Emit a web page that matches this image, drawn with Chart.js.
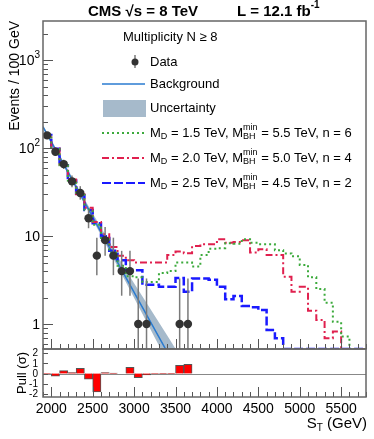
<!DOCTYPE html>
<html>
<head>
<meta charset="utf-8">
<script src="https://cdn.jsdelivr.net/npm/chart.js@4.4.0/dist/chart.umd.min.js"></script>
<style>
html, body { margin: 0; padding: 0; background: #fff; }
#wrap { position: relative; width: 374px; height: 439px; }
#wrap canvas { position: absolute; left: 0; top: 0; }
</style>
</head>
<body>
<div id="wrap">
  <canvas id="mainChart" width="374" height="439"></canvas>
  <canvas id="pullChart" width="374" height="439"></canvas>
</div>
<script>
// left edges of the 100 GeV bins
var binEdges = [1900, 2000, 2100, 2200, 2300, 2400, 2500, 2600, 2700, 2800,
                2900, 3000, 3100, 3200, 3300, 3400, 3500, 3600, 3700, 3800,
                3900, 4000, 4100, 4200, 4300, 4400, 4500, 4600, 4700, 4800,
                4900, 5000, 5100, 5200, 5300, 5400, 5500, 5600, 5700];

// data points (bin centres), counts and error bar ends
var dataX  = [1950, 2050, 2150, 2250, 2350, 2450, 2550, 2650, 2750, 2850, 2950, 3050, 3150, 3550, 3650];
var dataY  = [140, 91, 66, 42, 31, 16, 6, 9, 6, 4, 4, 1, 1, 1, 1];
var dataLo = [128, 82, 58, 36, 26, 12.3, 3.6, 6.0, 3.6, 2.1, 2.1, 0.17, 0.17, 0.17, 0.17];
var dataHi = [152, 101, 74, 49, 37, 20, 9.6, 12.7, 9.6, 6.8, 6.8, 3.3, 3.3, 3.3, 3.3];

// background fit and its uncertainty band
var bkgX   = [1900, 2400, 2900, 3400, 3600];
var bkgY   = [175, 24.5, 3.4, 0.48, 0.22];
var bandHi = [182, 26.5, 4.1, 0.74, 0.37];
var bandLo = [170, 23, 3.0, 0.375, 0.17];

// signal + background histograms (one value per bin)
var sigGreen = [142, 98, 64, 43, 29.5, 20, 13.5, 9.5, 6.5, 4.6,
                3.5, 3.4, 3.0, 3.0, 3.8, 4.0, 5.0, 5.0, 4.5, 6.1,
                7.2, 7.3, 8.3, 8.2, 9.2, 8.4, 8.1, 8.1, 6.9, 6.35,
                5.9, 4.7, 3.4, 2.5, 1.75, 1.06, 0.72, 0, 0];
var sigRed   = [143, 99, 65, 44, 30, 21, 14.5, 10.5, 7.5, 6.0,
                5.3, 5.0, 5.0, 5.0, 5.0, 6.1, 6.7, 6.4, 7.7, 8.1,
                8.1, 9.2, 8.4, 8.6, 9.0, 6.5, 7.1, 6.1, 6.1, 3.45,
                2.33, 2.65, 1.42, 1.11, 0.69, 0.82, 0, 0, 0];
var sigBlue  = [141, 98.5, 64, 43, 29.2, 19.8, 14, 10, 6.8, 5.3,
                4.1, 4.1, 2.8, 2.8, 2.65, 2.65, 3.35, 2.33, 3.3, 3.3,
                3.2, 2.65, 1.91, 2.08, 1.6, 1.55, 1.44, 0.855, 0.69, 0,
                0, 0, 0, 0, 0, 0, 0, 0, 0];

// pull per bin
var pullVals = [-0.05, -0.25, 0.28, 0.1, 0.5, -0.55, -1.8, 0.1, 0.03, 0,
                0.6, -0.4, -0.15, -0.05, -0.03, -0.02, 0.8, 0.9, 0, 0,
                0, 0, 0, 0, 0, 0, 0, 0, 0, 0,
                0, 0, 0, 0, 0, 0, 0, 0, 0];

var xTicks = [2000, 2500, 3000, 3500, 4000, 4500, 5000, 5500];
var yTicks = [1, 10, 100, 1000];
var yTickExp = ['', '', '2', '3'];
var pullTicks = [-2, -1, 0, 1, 2];

var X_MIN = 1900, X_MAX = 5800, Y_MIN = 0.52, Y_MAX = 2800, P_MIN = -2.3, P_MAX = 2.4;
var FONT = '"Liberation Sans", Arial, Helvetica, sans-serif';

var colGreen = '#3caa3c', colRed = '#e0204e', colBlue = '#1a1aff';
var colBkg = '#2a7bd0', colBand = 'rgba(150,174,194,0.85)';
var dashGreen = [2, 3], dashRed = [7, 3, 2, 3], dashBlue = [9, 3];

// histogram -> polyline with both bin edges
function histPoints(vals) {
    var pts = [];
    for (var i = 0; i < binEdges.length; i++) {
        var v = vals[i] > 0 ? vals[i] : Y_MIN;
        pts.push({ x: binEdges[i], y: v });
        pts.push({ x: binEdges[i] + 100, y: v });
    }
    return pts;
}

function xyPoints(xs, ys) {
    return xs.map(function (x, i) { return { x: x, y: ys[i] }; });
}

// text with sub/superscripts, parts: {t} or {sub} or {sup} or {sup, sub}
function richText(c, x, y, parts, size, weight) {
    var w = weight || 'normal';
    var small = Math.round(size * 0.68);
    parts.forEach(function (p) {
        if (p.t !== undefined) {
            c.font = w + ' ' + size + 'px ' + FONT;
            c.fillText(p.t, x, y);
            x += c.measureText(p.t).width;
        } else {
            c.font = w + ' ' + small + 'px ' + FONT;
            var wd = 0;
            if (p.sup) {
                c.fillText(p.sup, x, y - size * 0.42);
                wd = Math.max(wd, c.measureText(p.sup).width);
            }
            if (p.sub) {
                c.fillText(p.sub, x, y + size * 0.28);
                wd = Math.max(wd, c.measureText(p.sub).width);
            }
            x += wd;
        }
    });
    return x;
}

function richWidth(c, parts, size, weight) {
    var w = weight || 'normal';
    var small = Math.round(size * 0.68);
    var total = 0;
    parts.forEach(function (p) {
        if (p.t !== undefined) {
            c.font = w + ' ' + size + 'px ' + FONT;
            total += c.measureText(p.t).width;
        } else {
            c.font = w + ' ' + small + 'px ' + FONT;
            total += Math.max(p.sup ? c.measureText(p.sup).width : 0, p.sub ? c.measureText(p.sub).width : 0);
        }
    });
    return total;
}

// error bars under the data markers
var errorBars = {
    id: 'errorBars',
    beforeDatasetDraw: function (chart, args) {
        if (args.index !== 0) return;
        var c = chart.ctx, xs = chart.scales.x, ys = chart.scales.y, a = chart.chartArea;
        c.save();
        c.beginPath();
        c.rect(a.left, a.top, a.right - a.left, a.bottom - a.top);
        c.clip();
        c.strokeStyle = '#7a7a7a';
        c.lineWidth = 1.5;
        for (var i = 0; i < dataX.length; i++) {
            var px = xs.getPixelForValue(dataX[i]);
            c.beginPath();
            c.moveTo(px, ys.getPixelForValue(dataHi[i]));
            c.lineTo(px, ys.getPixelForValue(dataLo[i]));
            c.stroke();
        }
        c.restore();
    }
};

// frame, inner ticks, labels, title and legend of the main panel
var mainDecor = {
    id: 'mainDecor',
    afterDraw: function (chart) {
        var c = chart.ctx, a = chart.chartArea, xs = chart.scales.x, ys = chart.scales.y;
        c.save();
        c.strokeStyle = '#555';
        c.lineWidth = 1;
        // x ticks at bottom
        for (var v = 1900; v <= X_MAX; v += 100) {
            var px = Math.round(xs.getPixelForValue(v)) + 0.5;
            var len = (v % 500 === 0) ? 10 : 5;
            c.beginPath(); c.moveTo(px, a.bottom); c.lineTo(px, a.bottom - len); c.stroke();
        }
        // log y ticks
        for (var d = -1; d <= 3; d++) {
            for (var m = 1; m <= 9; m++) {
                var val = m * Math.pow(10, d);
                if (val < Y_MIN || val > Y_MAX) continue;
                var py = Math.round(ys.getPixelForValue(val)) + 0.5;
                var l = (m === 1) ? 10 : 5;
                c.beginPath(); c.moveTo(a.left, py); c.lineTo(a.left + l, py); c.stroke();
            }
        }
        // frame
        c.strokeStyle = '#666';
        c.lineWidth = 1.5;
        c.strokeRect(a.left, a.top, a.right - a.left, a.bottom - a.top);

        c.fillStyle = '#000';
        c.textBaseline = 'middle';
        // y tick labels
        yTicks.forEach(function (t, i) {
            var py = ys.getPixelForValue(t);
            var parts = [{ t: String(t === 100 || t === 1000 ? 10 : t) }];
            if (yTickExp[i]) parts.push({ sup: yTickExp[i] });
            var w = richWidth(c, parts, 14);
            c.textAlign = 'left';
            richText(c, a.left - 3 - w, py + 1, parts, 14);
        });
        // y axis title
        c.save();
        c.translate(15, a.top);
        c.rotate(-Math.PI / 2);
        c.textAlign = 'right';
        c.font = '14px ' + FONT;
        c.fillText('Events / 100 GeV', 0, 0);
        c.restore();

        // title
        c.textAlign = 'left';
        richText(c, 88, 12, [{ t: 'CMS \u221As = 8 TeV' }], 15, 'bold');
        richText(c, 237, 12, [{ t: 'L = 12.1 fb' }, { sup: '-1' }], 15, 'bold');

        // legend
        richText(c, 123, 37, [{ t: 'Multiplicity N \u2265 8' }], 13);
        // data marker
        c.strokeStyle = '#7a7a7a'; c.lineWidth = 1.5;
        c.beginPath(); c.moveTo(135, 55); c.lineTo(135, 68); c.stroke();
        c.fillStyle = '#333';
        c.beginPath(); c.arc(135, 62, 3.5, 0, Math.PI * 2); c.fill();
        c.fillStyle = '#000';
        richText(c, 150, 62, [{ t: 'Data' }], 13);
        // background line
        c.strokeStyle = colBkg; c.lineWidth = 1.5;
        c.beginPath(); c.moveTo(102, 84); c.lineTo(145, 84); c.stroke();
        richText(c, 150, 84, [{ t: 'Background' }], 13);
        // uncertainty box
        c.fillStyle = colBand;
        c.fillRect(103, 100, 43, 17);
        c.fillStyle = '#000';
        richText(c, 150, 108, [{ t: 'Uncertainty' }], 13);
        // signals
        var sigs = [
            { y: 133, col: colGreen, dash: dashGreen, md: '1.5', mbh: '5.5', n: '6' },
            { y: 158, col: colRed, dash: dashRed, md: '2.0', mbh: '5.0', n: '4' },
            { y: 183, col: colBlue, dash: dashBlue, md: '2.5', mbh: '4.5', n: '2' }
        ];
        sigs.forEach(function (s) {
            c.strokeStyle = s.col; c.lineWidth = 2; c.setLineDash(s.dash);
            c.beginPath(); c.moveTo(102, s.y); c.lineTo(145, s.y); c.stroke();
            c.setLineDash([]);
            richText(c, 150, s.y, [{ t: 'M' }, { sub: 'D' }, { t: ' = ' + s.md + ' TeV, M' },
                { sup: 'min', sub: 'BH' }, { t: ' = ' + s.mbh + ' TeV, n = ' + s.n }], 13);
        });
        c.restore();
    }
};

// pull panel decorations
var pullDecor = {
    id: 'pullDecor',
    beforeDatasetsDraw: function (chart) {
        var c = chart.ctx, a = chart.chartArea, ys = chart.scales.y;
        c.save();
        c.strokeStyle = '#888'; c.lineWidth = 1;
        var py = Math.round(ys.getPixelForValue(0)) + 0.5;
        c.beginPath(); c.moveTo(a.left, py); c.lineTo(a.right, py); c.stroke();
        c.restore();
    },
    afterDraw: function (chart) {
        var c = chart.ctx, a = chart.chartArea, xs = chart.scales.x, ys = chart.scales.y;
        c.save();
        c.strokeStyle = '#555'; c.lineWidth = 1;
        for (var v = 1900; v <= X_MAX; v += 100) {
            var px = Math.round(xs.getPixelForValue(v)) + 0.5;
            var len = (v % 500 === 0) ? 10 : 5;
            c.beginPath(); c.moveTo(px, a.bottom); c.lineTo(px, a.bottom - len); c.stroke();
        }
        pullTicks.forEach(function (t) {
            var py = Math.round(ys.getPixelForValue(t)) + 0.5;
            c.beginPath(); c.moveTo(a.left, py); c.lineTo(a.left + 5, py); c.stroke();
        });
        c.strokeStyle = '#666'; c.lineWidth = 1.5;
        c.strokeRect(a.left, a.top, a.right - a.left, a.bottom - a.top);

        c.fillStyle = '#000';
        c.textBaseline = 'middle';
        c.textAlign = 'right';
        c.font = '10px ' + FONT;
        pullTicks.forEach(function (t) {
            c.fillText(String(t), a.left - 5, ys.getPixelForValue(t) + 0.5);
        });
        c.textAlign = 'center';
        c.font = '14px ' + FONT;
        xTicks.forEach(function (t) {
            c.fillText(String(t), xs.getPixelForValue(t), 409);
        });
        // pull axis title
        c.save();
        c.translate(22, (a.top + a.bottom) / 2);
        c.rotate(-Math.PI / 2);
        c.textAlign = 'center';
        c.font = '13px ' + FONT;
        c.fillText('Pull (\u03C3)', 0, 0);
        c.restore();
        // x axis title
        var parts = [{ t: 'S' }, { sub: 'T' }, { t: ' (GeV)' }];
        var w = richWidth(c, parts, 15);
        c.textAlign = 'left';
        richText(c, a.right + 1 - w, 424, parts, 15);
        c.restore();
    }
};

var mainChart = new Chart(document.getElementById('mainChart').getContext('2d'), {
    type: 'line',
    data: {
        datasets: [
            {
                label: 'Data',
                data: xyPoints(dataX, dataY),
                showLine: false,
                pointRadius: 4.2,
                pointBackgroundColor: '#333',
                pointBorderWidth: 0,
                order: 0
            },
            {
                label: 'MD 1.5',
                data: histPoints(sigGreen),
                borderColor: colGreen, borderWidth: 2, borderDash: dashGreen,
                pointRadius: 0, fill: false, order: 1
            },
            {
                label: 'MD 2.0',
                data: histPoints(sigRed),
                borderColor: colRed, borderWidth: 2, borderDash: dashRed,
                pointRadius: 0, fill: false, order: 2
            },
            {
                label: 'MD 2.5',
                data: histPoints(sigBlue),
                borderColor: colBlue, borderWidth: 2.5, borderDash: dashBlue,
                pointRadius: 0, fill: false, order: 3
            },
            {
                label: 'Background',
                data: xyPoints(bkgX, bkgY),
                borderColor: colBkg, borderWidth: 1.5,
                pointRadius: 0, fill: false, order: 4
            },
            {
                label: 'Band hi',
                data: xyPoints(bkgX, bandHi),
                borderWidth: 0, borderColor: 'rgba(0,0,0,0)',
                backgroundColor: colBand,
                pointRadius: 0, fill: '+1', order: 5
            },
            {
                label: 'Band lo',
                data: xyPoints(bkgX, bandLo),
                borderWidth: 0, borderColor: 'rgba(0,0,0,0)',
                pointRadius: 0, fill: false, order: 6
            }
        ]
    },
    options: {
        responsive: false,
        animation: false,
        layout: { padding: { left: 43, right: 8, top: 21, bottom: 90 } },
        plugins: { legend: { display: false }, tooltip: { enabled: false } },
        scales: {
            x: { type: 'linear', min: X_MIN, max: X_MAX, display: false },
            y: { type: 'logarithmic', min: Y_MIN, max: Y_MAX, display: false }
        }
    },
    plugins: [errorBars, mainDecor]
});

var pullChart = new Chart(document.getElementById('pullChart').getContext('2d'), {
    type: 'bar',
    data: {
        datasets: [{
            label: 'Pull',
            data: binEdges.map(function (e, i) { return { x: e + 50, y: pullVals[i] }; }),
            backgroundColor: '#ff0000',
            borderColor: '#555',
            borderWidth: 1,
            barPercentage: 1,
            categoryPercentage: 1,
            grouped: false
        }]
    },
    options: {
        responsive: false,
        animation: false,
        layout: { padding: { left: 43, right: 8, top: 349, bottom: 42 } },
        plugins: { legend: { display: false }, tooltip: { enabled: false } },
        scales: {
            x: { type: 'linear', min: X_MIN, max: X_MAX, offset: false, display: false },
            y: { type: 'linear', min: P_MIN, max: P_MAX, display: false }
        }
    },
    plugins: [pullDecor]
});
</script>
</body>
</html>
